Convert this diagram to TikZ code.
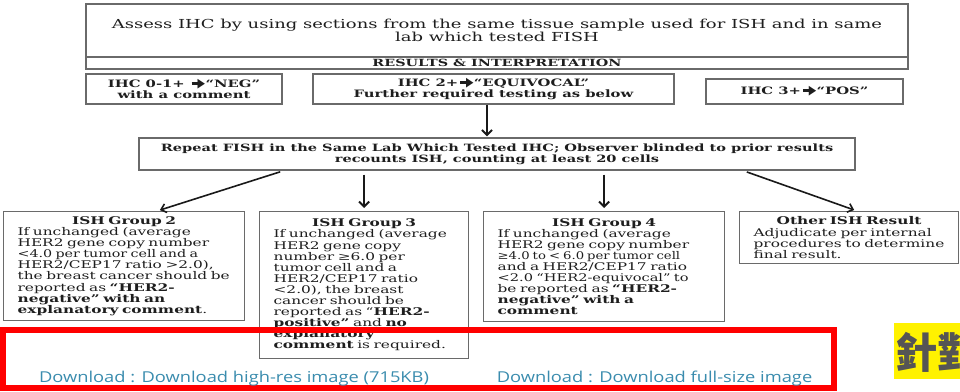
\documentclass[tikz,border=0pt]{standalone}
\usepackage{fontspec}
\setmainfont{DejaVu Serif}[FakeStretch=1.45]
\newfontfamily\arrfont{DejaVu Sans}
\newfontfamily\dlfont{Open Sans}[FakeStretch=1.22]
\newfontfamily\cjkfont{Noto Sans CJK TC}
\usetikzlibrary{arrows.meta}
\definecolor{txt}{HTML}{1E1E1E}
\definecolor{bord}{HTML}{6A6A6A}
\definecolor{dl}{HTML}{3A8CAE}
\definecolor{cjkgray}{HTML}{555555}
\newcommand\harr{\,\rule[2.4pt]{7pt}{3pt}\kern-1pt\raisebox{-0.6pt}{\scalebox{0.95}[1.25]{\arrfont\symbol{"25B6}}}\kern0.5pt}
\newcommand\lin[1]{\mbox{#1}\\}
\tikzset{
  box/.style={draw=bord, line width=1.2pt, inner sep=0pt, text=txt},
  gbox/.style={box, anchor=north west, align=left, inner xsep=14pt, inner ysep=4pt,
     font=\fontsize{10.6}{11.1}\selectfont},
  thick arrow/.style={draw=black!90, line width=2.4pt, -{Straight Barb[length=5pt,width=10pt,line width=2pt]}},
  thin arrow/.style={draw=black!90, line width=1.6pt, -{Straight Barb[length=5pt,width=9pt,line width=1.6pt]}},
}
\begin{document}
\begin{tikzpicture}[x=1pt,y=-1pt]
\useasboundingbox (0,0) rectangle (960,391);
\fill[white] (0,0) rectangle (960,391);
% top box
\node[box, minimum width=822, minimum height=53, align=center,
      font=\fontsize{12.4}{13}\selectfont] (title) at (497,30.5)
  {Assess IHC by using sections from the same tissue sample used for ISH and in same\\lab which tested FISH};
\node[box, minimum width=822, minimum height=12, font=\bfseries\fontsize{9.9}{11}\selectfont] (results) at (497,63)
  {RESULTS \& INTERPRETATION};
% IHC boxes
\node[box, minimum width=196, minimum height=30, align=center,
      font=\bfseries\fontsize{10.2}{11}\selectfont] (ihc0) at (184,89)
  {IHC 0-1+ \harr“NEG”\\with a comment};
\node[box, minimum width=361, minimum height=30, align=center,
      font=\bfseries\fontsize{10.2}{11}\selectfont] (ihc2) at (493.5,89)
  {IHC 2+\harr“EQUIVOCAL”\\Further required testing as below};
\node[box, minimum width=197, minimum height=25, align=center,
      font=\bfseries\fontsize{10.2}{11}\selectfont] (ihc3) at (804.5,91.5)
  {IHC 3+\harr“POS”};
% repeat box
\node[box, minimum width=716, minimum height=32, align=center,
      font=\bfseries\fontsize{10.05}{11}\selectfont] (rep) at (497,154)
  {Repeat FISH in the Same Lab Which Tested IHC; Observer blinded to prior results\\recounts ISH, counting at least 20 cells};
% group boxes
\node[gbox, minimum width=241, minimum height=109, text width=213pt] (g2) at (3,211)
  {\makebox[\linewidth]{\bfseries ISH Group 2}\\
   \lin{If unchanged (average}
   \lin{HER2 gene copy number}
   \lin{\scalebox{0.93}[1]{<4.0 per tumor cell and a}}
   \lin{HER2/CEP17 ratio >2.0),}
   \lin{the breast cancer should be}
   \lin{reported as \textbf{“HER2-}}
   \lin{\textbf{negative” with an}}
   \mbox{\textbf{explanatory comment}.}};
\node[gbox, minimum width=209, minimum height=147, text width=181pt] (g3) at (259,211)
  {\makebox[\linewidth]{\bfseries ISH Group 3}\\
   \lin{If unchanged (average}
   \lin{HER2 gene copy}
   \lin{number ≥6.0 per}
   \lin{tumor cell and a}
   \lin{HER2/CEP17 ratio}
   \lin{<2.0), the breast}
   \lin{cancer should be}
   \lin{reported as “\textbf{HER2-}}
   \lin{\textbf{positive”} and \textbf{no}}
   \lin{\textbf{explanatory}}
   \mbox{\textbf{comment} is required.}};
\node[gbox, minimum width=241, minimum height=110, text width=213pt] (g4) at (483,211)
  {\makebox[\linewidth]{\bfseries ISH Group 4}\\
   \lin{If unchanged (average}
   \lin{HER2 gene copy number}
   \lin{\scalebox{0.86}[1]{≥4.0 to < 6.0 per tumor cell}}
   \lin{and a HER2/CEP17 ratio}
   \lin{\scalebox{0.95}[1]{<2.0 “HER2-equivocal” to}}
   \lin{be reported as \textbf{“HER2-}}
   \lin{\textbf{negative” with a}}
   \mbox{\textbf{comment}}};
\node[gbox, minimum width=219, minimum height=52, text width=191pt] (other) at (739,211)
  {\makebox[\linewidth]{\bfseries Other ISH Result}\\
   \lin{Adjudicate per internal}
   \lin{procedures to determine}
   \mbox{final result.}};
% connectors
\coordinate (xa) at (284,0);
\coordinate (xb) at (157,0);
\coordinate (xc) at (743,0);
\coordinate (xd) at (857,0);
\coordinate (xe) at (487,0);
\draw[thick arrow] (ihc2.south -| xe) -- ([yshift=1pt]rep.north -| xe);
\draw[thin arrow, shorten <=4pt, shorten >=3pt] (rep.south -| xa) -- (g2.north -| xb);
\draw[thick arrow, shorten <=4pt, shorten >=3pt] (rep.south -| g3.north) -- (g3.north);
\draw[thick arrow, shorten <=4pt, shorten >=3pt] (rep.south -| g4.north) -- (g4.north);
\draw[thin arrow, shorten <=4pt, shorten >=3pt] (rep.south -| xc) -- (other.north -| xd);
% overlay
\node[draw=red, line width=5.5pt, minimum width=831, minimum height=58, inner sep=0pt] (redbox) at (418.5,359) {};
\node[text=dl, font=\dlfont\fontsize{15}{17}\selectfont] (dl1) at (234,379) {Download : Download high-res image (715KB)};
\node[text=dl, font=\dlfont\fontsize{15}{17}\selectfont] (dl2) at (654.5,379) {Download : Download full-size image};
\node[fill=yellow, minimum width=66, minimum height=56, inner sep=0pt, anchor=north west] (ybox) at (894,323) {};
\node[anchor=west, inner sep=0pt, text=cjkgray, font=\cjkfont\bfseries\fontsize{42}{44}\selectfont] (cjk) at (895,352) {針對};
\end{tikzpicture}
\end{document}
